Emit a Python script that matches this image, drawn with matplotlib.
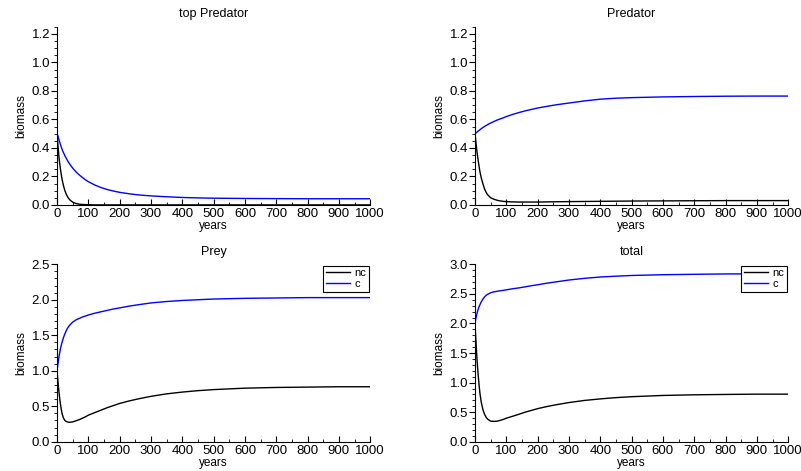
import matplotlib
matplotlib.use('Agg')
import matplotlib.pyplot as plt
from matplotlib.ticker import MultipleLocator, FormatStrFormatter

plt.rcParams['font.family'] = ['Liberation Sans', 'DejaVu Sans']

# 时间点 (years)
years = [0, 2, 4, 6, 8, 10, 13, 16, 20, 25, 30, 35, 40, 50, 60, 70, 80, 90, 100,
         120, 140, 160, 180, 200, 230, 260, 300, 350, 400, 450, 500, 600, 700, 800, 900, 1000]

# top Predator
top_nc = [0.50, 0.44, 0.39, 0.34, 0.30, 0.265, 0.22, 0.18, 0.14, 0.10, 0.072, 0.052, 0.037,
          0.019, 0.010, 0.005, 0.003, 0.002, 0.001,
          0.0, 0.0, 0.0, 0.0, 0.0, 0.0, 0.0, 0.0, 0.0, 0.0, 0.0, 0.0, 0.0, 0.0, 0.0, 0.0, 0.0]
top_c = [0.50, 0.49, 0.475, 0.46, 0.445, 0.43, 0.41, 0.39, 0.37, 0.345, 0.325, 0.305, 0.288,
         0.258, 0.233, 0.212, 0.194, 0.177, 0.163,
         0.14, 0.122, 0.108, 0.097, 0.088, 0.078, 0.07, 0.063, 0.057, 0.052, 0.049, 0.047,
         0.045, 0.044, 0.043, 0.043, 0.043]

# Predator
pred_nc = [0.50, 0.46, 0.42, 0.38, 0.345, 0.315, 0.27, 0.23, 0.19, 0.15, 0.115, 0.09, 0.072,
           0.05, 0.04, 0.033, 0.028, 0.025, 0.023,
           0.021, 0.02, 0.02, 0.02, 0.02, 0.021, 0.022, 0.023, 0.024, 0.025, 0.026, 0.027,
           0.028, 0.029, 0.03, 0.03, 0.03]
pred_c = [0.50, 0.503, 0.507, 0.51, 0.514, 0.518, 0.523, 0.528, 0.535, 0.543, 0.55, 0.557, 0.563,
          0.575, 0.585, 0.595, 0.603, 0.611, 0.62,
          0.635, 0.648, 0.66, 0.67, 0.68, 0.692, 0.703, 0.715, 0.73, 0.742, 0.749, 0.753,
          0.758, 0.761, 0.763, 0.764, 0.764]

# Prey
prey_nc = [1.00, 0.90, 0.80, 0.71, 0.63, 0.56, 0.47, 0.40, 0.34, 0.30, 0.285, 0.277, 0.275,
           0.28, 0.295, 0.31, 0.33, 0.35, 0.375,
           0.41, 0.445, 0.48, 0.51, 0.54, 0.575, 0.605, 0.64, 0.675, 0.70, 0.72, 0.735,
           0.755, 0.765, 0.77, 0.775, 0.775]
prey_c = [1.00, 1.07, 1.13, 1.19, 1.24, 1.29, 1.35, 1.40, 1.46, 1.52, 1.57, 1.61, 1.64,
          1.685, 1.715, 1.735, 1.755, 1.77, 1.785,
          1.81, 1.83, 1.85, 1.87, 1.885, 1.91, 1.93, 1.955, 1.975, 1.99, 2.0, 2.01,
          2.02, 2.025, 2.03, 2.03, 2.03]

# total
tot_nc = [2.00, 1.80, 1.61, 1.43, 1.275, 1.14, 0.96, 0.81, 0.67, 0.55, 0.472, 0.419, 0.384,
          0.349, 0.345, 0.348, 0.361, 0.377, 0.399,
          0.431, 0.465, 0.50, 0.53, 0.56, 0.596, 0.627, 0.663, 0.699, 0.725, 0.746, 0.762,
          0.783, 0.794, 0.80, 0.805, 0.805]
tot_c = [2.00, 2.063, 2.112, 2.16, 2.199, 2.238, 2.283, 2.318, 2.365, 2.408, 2.445, 2.472, 2.491,
         2.518, 2.533, 2.542, 2.552, 2.558, 2.568,
         2.585, 2.60, 2.618, 2.637, 2.653, 2.68, 2.703, 2.733, 2.762, 2.784, 2.798, 2.81,
         2.823, 2.83, 2.836, 2.837, 2.837]

panels = [
    ('top Predator', top_nc, top_c, 1.25, 0.2, 0.05, False, [0.0712, 0.565, 0.391, 0.378]),
    ('Predator', pred_nc, pred_c, 1.25, 0.2, 0.05, False, [0.593, 0.565, 0.391, 0.378]),
    ('Prey', prey_nc, prey_c, 2.5, 0.5, 0.1, True, [0.0712, 0.062, 0.391, 0.377]),
    ('total', tot_nc, tot_c, 3.0, 0.5, 0.1, True, [0.593, 0.062, 0.391, 0.377]),
]

fig = plt.figure(figsize=(8.01, 4.71), dpi=100)

for title, nc, c, ymax, major, minor, show_leg, pos in panels:
    ax = fig.add_axes(pos)
    ax.plot(years, nc, color='black', lw=1.0, label='nc')
    ax.plot(years, c, color='#0000ff', lw=1.0, label='c')
    ax.set_xlim(0, 1000)
    ax.set_ylim(0, ymax)
    ax.spines['top'].set_visible(False)
    ax.spines['right'].set_visible(False)
    ax.xaxis.set_major_locator(MultipleLocator(100))
    ax.xaxis.set_minor_locator(MultipleLocator(50))
    ax.yaxis.set_major_locator(MultipleLocator(major))
    ax.yaxis.set_minor_locator(MultipleLocator(minor))
    ax.yaxis.set_major_formatter(FormatStrFormatter('%.1f'))
    ax.tick_params(axis='x', which='major', direction='in', length=4, pad=2, labelsize=9.5)
    ax.tick_params(axis='x', which='minor', direction='in', length=2)
    ax.tick_params(axis='y', which='major', direction='out', length=4, pad=1, labelsize=9.5)
    ax.tick_params(axis='y', which='minor', direction='out', length=2)
    ax.set_title(title, fontsize=9, pad=7)
    ax.set_xlabel('years', fontsize=8.5, labelpad=0)
    ax.set_ylabel('biomass', fontsize=8.5, labelpad=3)
    if show_leg:
        ax.legend(loc='upper right', bbox_to_anchor=(0.995, 0.99), borderaxespad=0,
                  fontsize=8, fancybox=False, edgecolor='black', framealpha=1,
                  handlelength=2.2, handletextpad=0.4, borderpad=0.2, labelspacing=0.1)
        ax.get_legend().get_frame().set_linewidth(0.8)

plt.savefig('out.png', dpi=100)
